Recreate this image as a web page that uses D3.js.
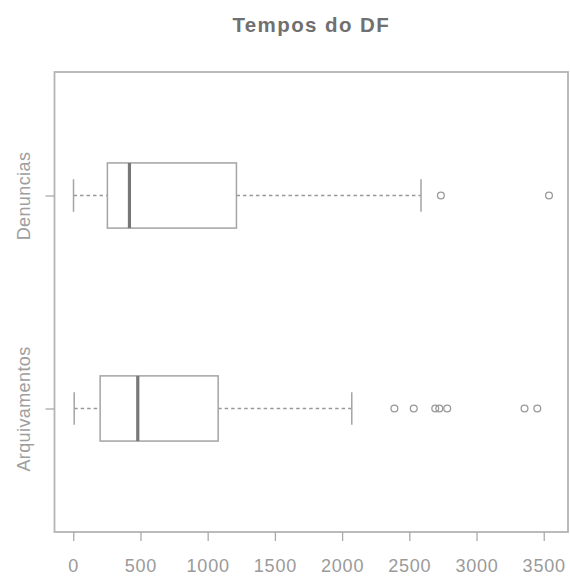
<!DOCTYPE html>
<html>
<head>
<meta charset="utf-8">
<script src="https://cdn.jsdelivr.net/npm/d3@7"></script>
<style>
  html, body { margin: 0; padding: 0; background: #fff; }
  svg { display: block; }
</style>
</head>
<body>
<div id="chart"></div>
<script>
// Groups, drawn bottom to top
const categories = ["Arquivamentos", "Denuncias"];

// Five-number summaries per group (days)
const mins     = [7, 2];
const q1s      = [200, 254];
const medians  = [480, 418];
const q3s      = [1078, 1214];
const maxs     = [2072, 2587];

// Points beyond the whiskers
const outliersArquivamentos = [2389, 2533, 2693, 2723, 2782, 3357, 3452];
const outliersDenuncias     = [2735, 3539];
const outliers = [outliersArquivamentos, outliersDenuncias];

const xTicks = [0, 500, 1000, 1500, 2000, 2500, 3000, 3500];
const title = "Tempos do DF";

const W = 570, H = 576;
const frame = { left: 54.5, right: 568, top: 72, bottom: 532 };

const svg = d3.select("#chart").append("svg")
  .attr("width", W).attr("height", H);

// x extent with a 4% margin on each side
const allVals = mins.concat(maxs, outliers.flat());
const lo = d3.min(allVals), hi = d3.max(allVals);
const pad = (hi - lo) * 0.04;
const x = d3.scaleLinear().domain([lo - pad, hi + pad]).range([frame.left, frame.right]);

const y = d3.scalePoint().domain(categories)
  .range([frame.bottom, frame.top]).padding(0.58);
const boxHalf = y.step() * 0.153;
const stapleHalf = boxHalf * 0.5;

const grey = "#a4a4a4";

// Plot frame
svg.append("rect")
  .attr("x", frame.left).attr("y", frame.top)
  .attr("width", frame.right - frame.left)
  .attr("height", frame.bottom - frame.top)
  .attr("fill", "none").attr("stroke", "#b4b4b4").attr("stroke-width", 1.8);

// Bottom axis
const xAxis = d3.axisBottom(x).tickValues(xTicks).tickSize(9).tickPadding(18)
  .tickFormat(d3.format("d"));
const gx = svg.append("g").attr("transform", `translate(0,${frame.bottom})`).call(xAxis);
gx.select(".domain").remove();
gx.selectAll(".tick line").attr("stroke", "#aaa").attr("stroke-width", 1.3);
gx.selectAll(".tick text")
  .attr("fill", "#9a9a9a")
  .attr("font-family", "Liberation Sans, Arial, sans-serif")
  .attr("font-size", 18)
  .attr("letter-spacing", 0.8);

// Left axis
const yAxis = d3.axisLeft(y).tickSize(9).tickPadding(22);
const gy = svg.append("g").attr("transform", `translate(${frame.left},0)`).call(yAxis);
gy.select(".domain").remove();
gy.selectAll(".tick line").attr("stroke", "#aaa").attr("stroke-width", 1.3);
gy.selectAll(".tick text")
  .attr("fill", "#9e9e9e")
  .attr("font-family", "Liberation Sans, Arial, sans-serif")
  .attr("font-size", 18)
  .attr("letter-spacing", 0.4)
  .attr("text-anchor", "middle")
  .attr("transform", "rotate(-90)")
  .attr("x", 0)
  .attr("y", -31)
  .attr("dy", "0.35em");

// Boxes
const rows = categories.map((c, i) => ({
  cat: c, min: mins[i], q1: q1s[i], med: medians[i], q3: q3s[i], max: maxs[i], out: outliers[i]
}));

const g = svg.selectAll("g.box").data(rows).join("g").attr("class", "box");

// Whiskers (dashed)
g.append("line")
  .attr("x1", d => x(d.min)).attr("x2", d => x(d.q1))
  .attr("y1", d => y(d.cat)).attr("y2", d => y(d.cat))
  .attr("stroke", "#999").attr("stroke-width", 1.6).attr("stroke-dasharray", "3.5,3");
g.append("line")
  .attr("x1", d => x(d.q3)).attr("x2", d => x(d.max))
  .attr("y1", d => y(d.cat)).attr("y2", d => y(d.cat))
  .attr("stroke", "#999").attr("stroke-width", 1.6).attr("stroke-dasharray", "3.5,3");

// Staples
["min", "max"].forEach(k => {
  g.append("line")
    .attr("x1", d => x(d[k])).attr("x2", d => x(d[k]))
    .attr("y1", d => y(d.cat) - stapleHalf).attr("y2", d => y(d.cat) + stapleHalf)
    .attr("stroke", grey).attr("stroke-width", 1.5);
});

// Interquartile box
g.append("rect")
  .attr("x", d => x(d.q1)).attr("width", d => x(d.q3) - x(d.q1))
  .attr("y", d => y(d.cat) - boxHalf).attr("height", boxHalf * 2)
  .attr("fill", "#fff").attr("stroke", grey).attr("stroke-width", 1.5);

// Median
g.append("line")
  .attr("x1", d => x(d.med)).attr("x2", d => x(d.med))
  .attr("y1", d => y(d.cat) - boxHalf).attr("y2", d => y(d.cat) + boxHalf)
  .attr("stroke", "#777").attr("stroke-width", 3.2);

// Outliers
g.each(function(d) {
  d3.select(this).selectAll("circle").data(d.out).join("circle")
    .attr("cx", v => x(v)).attr("cy", y(d.cat)).attr("r", 3.4)
    .attr("fill", "none").attr("stroke", "#999").attr("stroke-width", 1.3);
});

// Title
svg.append("text")
  .attr("x", (frame.left + frame.right) / 2)
  .attr("y", 32)
  .attr("text-anchor", "middle")
  .attr("fill", "#707070")
  .attr("font-family", "Liberation Sans, Arial, sans-serif")
  .attr("font-weight", "bold")
  .attr("font-size", 20.5)
  .attr("letter-spacing", 1.4)
  .text(title);
</script>
</body>
</html>
